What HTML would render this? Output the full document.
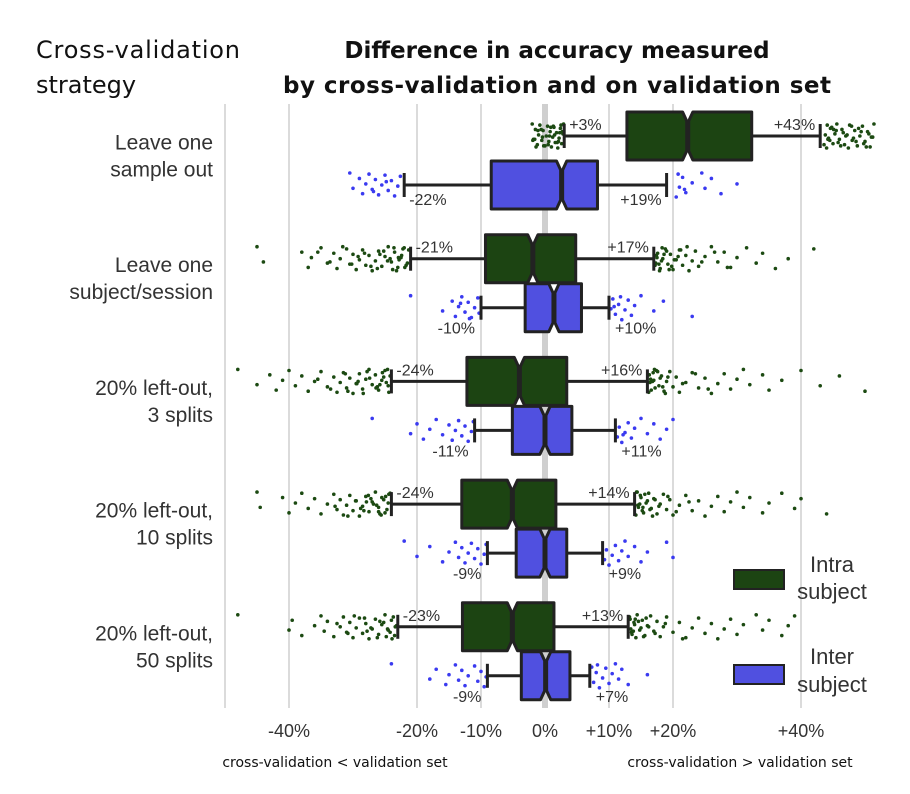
<!DOCTYPE html>
<html><head><meta charset="utf-8">
<style>
body{margin:0;background:#fff;}
svg{display:block;font-family:"DejaVu Sans","Liberation Sans",sans-serif;}
.lab{font-family:"Liberation Sans","DejaVu Sans",sans-serif;}
</style></head>
<body>
<svg id="chart" width="910" height="794" viewBox="0 0 910 794">
<text x="36" y="58" font-size="24" fill="#111" textLength="204">Cross-validation</text>
<text x="36" y="93" font-size="24" fill="#111">strategy</text>
<text x="557" y="58" font-size="23" font-weight="bold" text-anchor="middle" fill="#111">Difference in accuracy measured</text>
<text x="557" y="93" font-size="23" font-weight="bold" text-anchor="middle" fill="#111" textLength="548">by cross-validation and on validation set</text>
<g id="grid"></g>
<g id="plot"></g>
<g id="labels" class="lab"></g>
<text x="335" y="767" font-size="14" text-anchor="middle" fill="#111">cross-validation &lt; validation set</text>
<text x="740" y="767" font-size="14" text-anchor="middle" fill="#111">cross-validation &gt; validation set</text>
<g class="lab">
<rect x="734" y="570" width="50" height="19" fill="#1c4412" stroke="#222" stroke-width="2"/>
<text x="832" y="572" font-size="22" text-anchor="middle" fill="#333">Intra</text>
<text x="832" y="599" font-size="22" text-anchor="middle" fill="#333">subject</text>
<rect x="734" y="665" width="50" height="19" fill="#5050e0" stroke="#222" stroke-width="2"/>
<text x="832" y="664" font-size="22" text-anchor="middle" fill="#333">Inter</text>
<text x="832" y="692" font-size="22" text-anchor="middle" fill="#333">subject</text>
</g>
</svg>
<script>
const categories = [["Leave one","sample out"],["Leave one","subject/session"],["20% left-out,","3 splits"],["20% left-out,","10 splits"],["20% left-out,","50 splits"]];
const tickValues = [-40,-20,-10,0,10,20,40];
const tickLabels = ["-40%","-20%","-10%","0%","+10%","+20%","+40%"];
const gridValues = [-50,-40,-20,-10,10,20,40];
// [whiskerLo, q1, median, q3, whiskerHi]
const intraStats = [[3,12.8,22.3,32.3,43],[-21,-9.3,-1.9,4.8,17],[-24,-12.2,-4,3.4,16],[-24,-13,-5.1,1.7,14],[-23,-12.9,-5.1,1.4,13]];
const interStats = [[-22,-8.4,2.6,8.2,19],[-10,-3.1,1.4,5.7,10],[-11,-5.1,0,4.2,11],[-9,-4.5,0,3.4,9],[-9,-3.7,0.1,3.9,7]];
const intraOutliers = [
 [-2,-1.8,-1.5,-1.2,-1,-0.8,-0.5,-0.3,0,0.2,0.4,0.6,0.8,1,1.2,1.4,1.6,1.8,2,2.2,2.4,2.6,2.8,2.9,-1.6,-0.6,0.5,1.5,2.5,-1.9,-1.1,-0.2,0.7,1.3,2.1,2.7,-1.4,-0.4,0.9,1.9,2.3,44,44.3,44.6,45,45.3,45.6,46,46.4,46.8,47.2,47.6,48,48.4,48.8,49.2,49.6,50,50.4,50.8,51.2,44.8,45.8,46.6,47.4,48.2,49,49.8,50.6,51.4,44.2,45.1,43.6,43.8,44.1,44.5,45.5,46.2,47,47.9,48.6,49.4,50.2,51],
 [-45,-44,-38,-37,-36.5,-35,-34,-33,-32.5,-32,-31,-30.5,-30,-29.5,-29,-28.5,-28,-27.5,-27,-26.5,-26,-25.5,-25,-24.5,-24,-23.5,-23,-22.5,-22,-21.5,-28.2,-26.2,-24.2,-22.2,-30.2,-25.8,-23.8,-22.8,-21.3,-21.7,-22.4,-23.2,-24.6,-25.2,-27.2,-29.2,-31.6,-33.6,-35.5,-21.9,-22.9,-23.6,17.3,17.6,18,18.4,18.8,19.2,19.6,20,20.5,21,21.5,22,22.5,23,23.5,24,25,26,27,28,29,30,31.5,33,34,36,38,42,17.8,18.6,19.4,20.2,21.2,17.2,17.4,17.9,18.2,19,19.8,20.8,22.2,24.5,26.5,28.5,17.5,18.3],
 [-48,-45,-43,-42,-41,-40,-39,-38,-37,-36,-35,-34,-33,-32.5,-32,-31.5,-31,-30.5,-30,-29.5,-29,-28.5,-28,-27.5,-27,-26.5,-26,-25.5,-25,-24.5,-24.2,-30.8,-29.2,-27.8,-26.2,-25.2,-24.4,-24.8,-25.4,-26.4,-27.4,-28.4,-29.4,-31.2,-33.5,-35.5,-24.6,-25.8,16.3,16.6,17,17.4,17.8,18.2,18.6,19,19.5,20,20.5,21,22,23,24,25,26,27,28,29,30,31,32,34,35,37,40,43,46,50,16.8,17.6,18.4,19.2,16.2,16.4,16.9,17.2,18,18.8,21.5,23.5,25.5,16.5,17.1],
 [-45,-44.5,-41,-40,-39,-38,-37,-36,-35,-34,-33,-32.5,-32,-31.5,-31,-30.5,-30,-29.5,-29,-28.5,-28,-27.5,-27,-26.5,-26,-25.5,-25,-24.5,-24.2,-28.8,-27.2,-25.8,-26.8,-24.4,-24.7,-25.2,-25.6,-26.3,-27.6,-28.3,-29.6,-30.8,-32.8,-24.9,-26,-27.9,14.3,14.6,15,15.4,15.8,16.2,16.6,17,17.5,18,18.5,19,19.5,20,21,22,23,24,25,26,27,28,29,30,31,32,34,35,37,39,40,44,14.8,15.6,16.4,17.2,14.2,14.5,14.9,15.2,16,16.8,17.8,19.2,20.5,22.5,14.4,15.3],
 [-48,-40,-39.5,-38,-36,-35,-34.5,-34,-33,-32,-31.5,-31,-30.5,-30,-29.5,-29,-28.5,-28,-27.5,-27,-26.5,-26,-25.5,-25,-24.5,-24,-23.5,-23.2,-29.8,-27.8,-25.8,-24.8,-23.4,-23.7,-24.2,-25.2,-26.2,-27.2,-28.2,-30.8,-32.5,-23.9,-24.6,13.3,13.6,14,14.4,14.8,15.2,15.6,16,16.5,17,17.5,18,18.5,19,20,21,22,23,24,25,26,27,28,29,30,31,33,34,35,37,38,39,13.8,14.6,15.4,16.2,13.2,13.5,13.9,14.2,15,15.8,17.2,18.8,21.5,13.4,14.1]
];
const interOutliers = [
 [-30.5,-30,-29,-28.5,-28,-27.5,-27,-26.5,-26,-25.5,-25,-24.5,-24,-23.5,-23,-22.6,-26.8,-24.8,20.5,21,21.5,22,23,24.5,25,26,27.5,30,20.8,21.8],
 [-21,-16,-14.5,-14,-13.5,-13,-12.5,-12,-11.5,-11,-10.5,-10.3,-13.2,-11.8,10.3,10.6,11,11.5,12,12.5,13,13.5,14,15,17,18.5,23,10.8,11.8],
 [-27,-21,-20,-19,-18,-17,-16,-15,-14.5,-14,-13.5,-13,-12.5,-12,-11.5,-11.2,11.3,11.6,12,12.5,13,13.5,14,15,16,17,18,19,20,12.2],
 [-22,-20,-18,-16,-15,-14,-13.5,-13,-12.5,-12,-11.5,-11,-10.5,-10,-9.5,-9.2,9.3,9.6,10,10.5,11,11.5,12,12.5,13,14,15,16,19,20],
 [-24,-18,-17,-15.5,-15,-14,-13.5,-13,-12.5,-12,-11,-10.5,-10,-9.5,-9.2,7.3,7.6,8,8.5,9,9.5,10,10.5,11,11.5,12,13,16,8.2]
];
const NS='http://www.w3.org/2000/svg';
const gGrid=document.getElementById('grid'),gPlot=document.getElementById('plot'),gLab=document.getElementById('labels');
function x(v){return 545+6.4*v;}
function yIntra(i){return 136+122.7*i;}
function yInter(i){return 185+122.7*i;}
const plotTop=104,plotBottom=708,boxH=48;
function mk(tag,attrs,parent){const e=document.createElementNS(NS,tag);for(const k in attrs)e.setAttribute(k,attrs[k]);parent.appendChild(e);return e;}
gridValues.forEach(v=>{
 const l=mk('line',{x1:x(v),x2:x(v),y1:plotTop,y2:plotBottom,stroke:'#cfcfcf','stroke-width':1.5},gGrid);
 
 
});
const z=mk('line',{x1:x(0),x2:x(0),y1:plotTop,y2:plotBottom,stroke:'#cfcfcf','stroke-width':6},gGrid);


tickValues.forEach((v,i)=>{
 const t=mk('text',{x:x(v),y:737,'font-size':18,'text-anchor':'middle',fill:'#333'},gLab);
 t.textContent=tickLabels[i];
 
 
});
categories.forEach((c,i)=>{
 const cy=(yIntra(i)+yInter(i))/2-7;
 c.forEach((s,j)=>{
  const t=mk('text',{x:213,y:cy-4+j*27,'font-size':21,'text-anchor':'end',fill:'#333'},gLab);
  t.textContent=s;
  
  
 });
});
function fmt(v){return (v>0?'+':'')+v+'%';}
function drawSeries(stats,outs,yf,fill,dot,above,name){
 stats.forEach((s,i)=>{
  const cy=yf(i);
  const [wl,q1,m,q3,wh]=s;
  outs[i].forEach((v,k)=>{
   const jit=((k*37)%23)/22-0.5;
   const c=mk('circle',{cx:x(v),cy:cy+jit*24,r:1.8,fill:dot},gPlot);
   
   
  });
  const w=mk('line',{x1:x(wl),x2:x(wh),y1:cy,y2:cy,stroke:'#222','stroke-width':3},gPlot);
  
  
  [wl,wh].forEach(v=>{
   const cap=mk('line',{x1:x(v),x2:x(v),y1:cy-12,y2:cy+12,stroke:'#222','stroke-width':3},gPlot);
   
   
  });
  const t0=cy-boxH/2,b0=cy+boxH/2,n=0.8,ins=9;
  const pts=[[x(q1),t0],[x(m-n),t0],[x(m)-1,t0+ins],[x(m)-1,b0-ins],[x(m-n),b0],[x(q1),b0]];
  const pts2=[[x(m+n),t0],[x(q3),t0],[x(q3),b0],[x(m+n),b0],[x(m)+1,b0-ins],[x(m)+1,t0+ins]];
  [pts,pts2].forEach(p=>{
   const b=mk('polygon',{points:p.map(q=>q.join(',')).join(' '),fill:fill,stroke:'#222','stroke-width':3,'stroke-linejoin':'round'},gPlot);
   
   
  });
  const outward=!above && i>0;
  const ly=above?cy-6:(outward?cy+26:cy+20);
  const a=mk('text',{x:outward?x(wl)-6:x(wl)+5,y:ly,'font-size':16,fill:'#333','text-anchor':outward?'end':'start'},gLab);
  a.textContent=fmt(wl);
  
  
  const bt=mk('text',{x:outward?x(wh)+6:x(wh)-5,y:ly,'font-size':16,fill:'#333','text-anchor':outward?'start':'end'},gLab);
  bt.textContent=fmt(wh);
  
  
 });
}
drawSeries(intraStats,intraOutliers,yIntra,'#1c4412','#1c4a12',true,'intra');
drawSeries(interStats,interOutliers,yInter,'#5050e0','#3a3af0',false,'inter');
</script>
</body></html>
